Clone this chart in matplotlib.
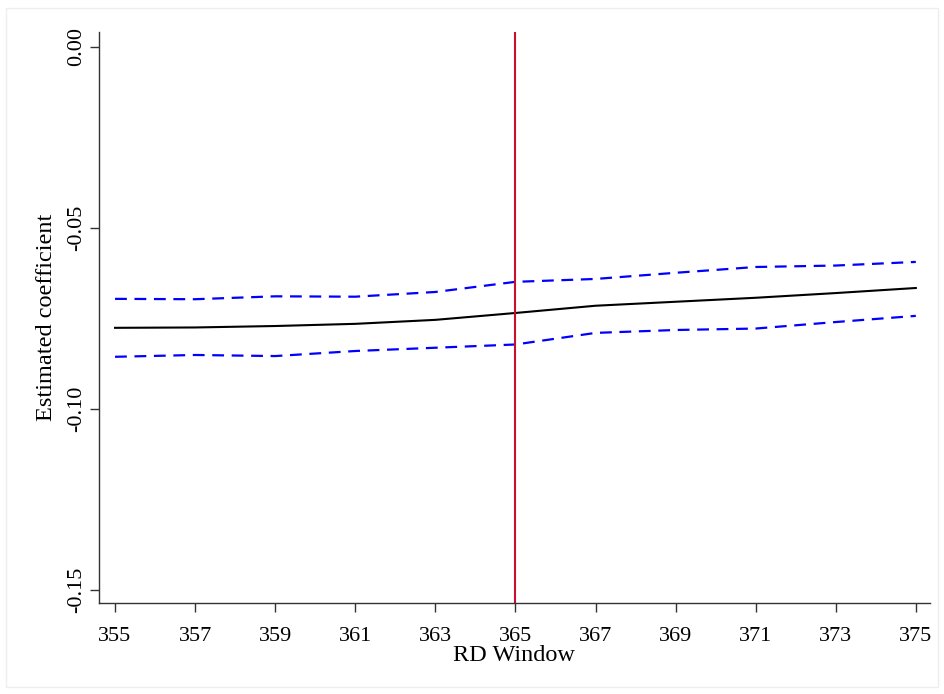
import numpy as np
import matplotlib
matplotlib.use("Agg")
import matplotlib.pyplot as plt
from matplotlib.patches import Rectangle

# RD window widths and the estimated coefficient with its confidence band
windows = [355, 357, 359, 361, 363, 365, 367, 369, 371, 373, 375]
coef = [-0.0776, -0.0775, -0.0771, -0.0765, -0.0754, -0.0735,
        -0.0715, -0.0704, -0.0693, -0.0680, -0.0666]
ci_upper = [-0.0696, -0.0697, -0.0689, -0.0690, -0.0677, -0.0649,
            -0.0641, -0.0624, -0.0608, -0.0604, -0.0594]
ci_lower = [-0.0856, -0.0851, -0.0854, -0.0840, -0.0831, -0.0822,
            -0.0790, -0.0782, -0.0778, -0.0760, -0.0743]
cutoff = 365
y_ticks = [0.00, -0.05, -0.10, -0.15]
y_ticklabels = ["0.00", "-0.05", "-0.10", "-0.15"]

plt.rcParams['font.family'] = ['Liberation Serif', 'DejaVu Serif']
plt.rcParams['lines.scale_dashes'] = False

fig = plt.figure(figsize=(9.44, 6.94), dpi=100)
fig.patch.set_facecolor("white")

# faint frame around the whole graph region
fig.patches.append(Rectangle((0.006, 0.01), 0.988, 0.978, transform=fig.transFigure,
                             fill=False, edgecolor="#eeeeee", linewidth=1.0))

ax = fig.add_axes([0.1049, 0.1311, 0.8801, 0.8228])

ax.plot(windows, ci_upper, color="#0000ff", lw=1.6, dashes=(8.5, 5.5))
ax.plot(windows, ci_lower, color="#0000ff", lw=1.6, dashes=(8.5, 5.5))
ax.plot(windows, coef, color="black", lw=1.5)
ax.axvline(cutoff, color="#c8102e", lw=1.5)

ax.set_xlim(354.6, 375.35)
ax.set_ylim(-0.1536, 0.0041)
ax.set_xticks(windows)
ax.set_xticklabels([str(w) for w in windows], fontsize=16)
ax.set_yticks(y_ticks)
ax.set_yticklabels(y_ticklabels, fontsize=16, rotation=90, va="center")

for side in ["top", "right"]:
    ax.spines[side].set_visible(False)
for side in ["left", "bottom"]:
    ax.spines[side].set_color("#333333")
    ax.spines[side].set_linewidth(1.0)
ax.tick_params(direction="out", length=6.5, width=1.0, color="#333333")
ax.tick_params(axis="x", pad=11)
ax.tick_params(axis="y", pad=3)

ax.set_xlabel("RD Window", fontsize=17.5, labelpad=-1)
ax.set_ylabel("Estimated coefficient", fontsize=17.5, labelpad=7)

fig.savefig("out.png", dpi=100)
